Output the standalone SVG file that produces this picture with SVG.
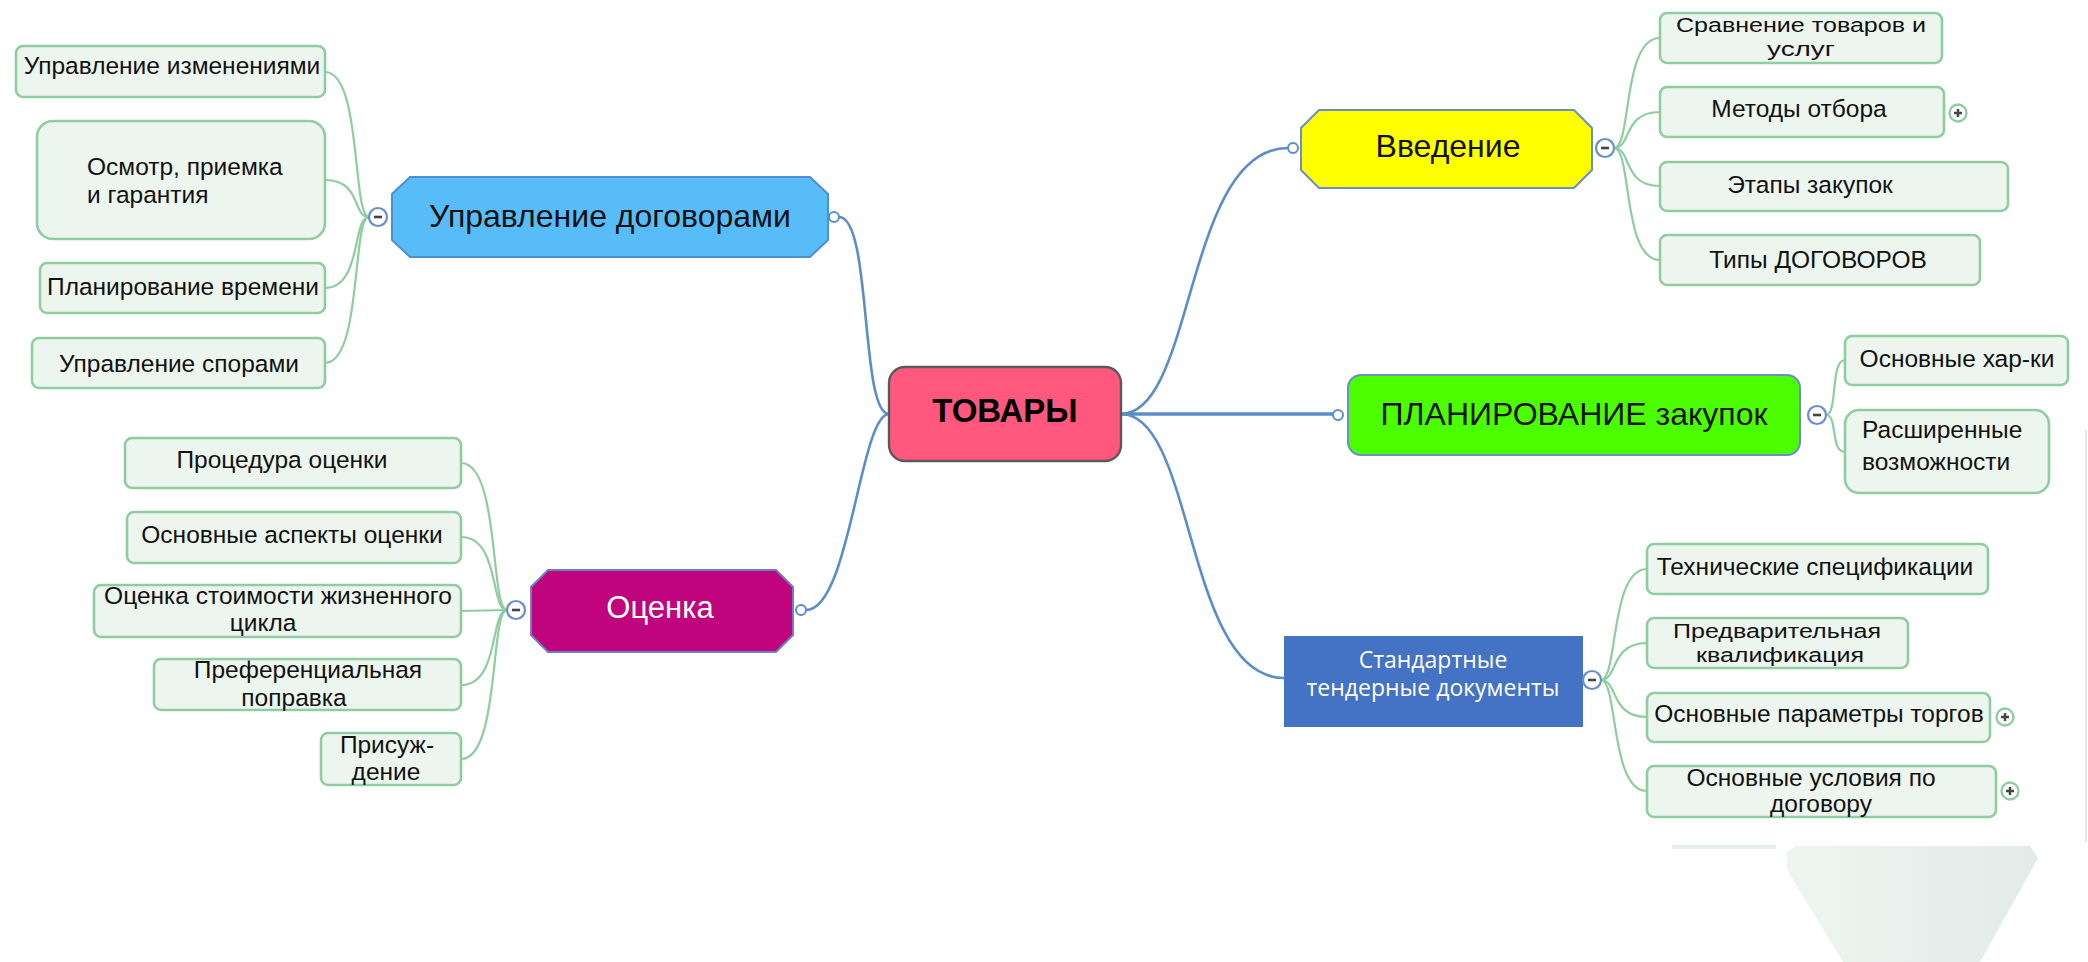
<svg xmlns="http://www.w3.org/2000/svg" width="2088" height="962" viewBox="0 0 2088 962">
<defs>
<linearGradient id="trap" x1="0" y1="0" x2="1" y2="0">
<stop offset="0" stop-color="#EEF5F1"/>
<stop offset="1" stop-color="#E1EBE8"/>
</linearGradient>
</defs>
<style>
.bl{fill:none;stroke:#5B8DC8;stroke-width:2.6}
.gr{fill:none;stroke:#8FCDA0;stroke-width:2.2}
.box{fill:#EDF5EF;stroke:#8FCDA0;stroke-width:2.6}
.t{font-family:"Liberation Sans",Arial,sans-serif;font-size:24.5px;fill:#111;text-anchor:middle}
.t2{font-family:"Liberation Sans",Arial,sans-serif;font-size:20.5px;fill:#111;text-anchor:middle}
.ts{font-family:"Liberation Sans",Arial,sans-serif;font-size:24.5px;fill:#111;text-anchor:start}
.mt{font-family:"Liberation Sans",Arial,sans-serif;font-size:32px;fill:#111;text-anchor:middle}
.end{fill:#fff;stroke:#5B8DC8;stroke-width:2}
.col{fill:#fff;stroke:#6A8FC8;stroke-width:2.2}
.exp{fill:#fff;stroke:#8FCDA0;stroke-width:2.4}
.sgn{stroke:#444;stroke-width:2.6;fill:none}
</style>
<rect width="2088" height="962" fill="#fff"/>
<g id="decor">
<polygon points="1795,846 2030,846 2038,858 1980,962 1843,962 1787,870 1787,852" fill="url(#trap)"/>
<rect x="1672" y="845" width="104" height="4" fill="#E6F0E8"/>
<line x1="2086" y1="430" x2="2086" y2="842" stroke="#E6E6E6" stroke-width="2"/>
</g>
<g id="connectors">
<path class="bl" d="M 839 217 C 872 217, 860 414, 889 414"/>
<path class="bl" d="M 889 414 C 860 414, 850 610, 806 610"/>
<path class="bl" d="M 1121 414 C 1195 414, 1185 148, 1288 148"/>
<path class="bl" d="M 1121 414 L 1333 414" style="stroke-width:3.4"/>
<path class="bl" d="M 1121 414 C 1195 414, 1185 678, 1284 678"/>
<path class="gr" d="M 1614 148 C 1632 148, 1622 38, 1660 38"/>
<path class="gr" d="M 1614 148 C 1632 148, 1622 112, 1660 112"/>
<path class="gr" d="M 1614 148 C 1632 148, 1622 186, 1660 186"/>
<path class="gr" d="M 1614 148 C 1632 148, 1622 260, 1660 260"/>
<path class="gr" d="M 1826 415 C 1838 415, 1830 360, 1845 360"/>
<path class="gr" d="M 1826 415 C 1838 415, 1830 452, 1845 452"/>
<path class="gr" d="M 1601 680 C 1618 680, 1610 569, 1647 569"/>
<path class="gr" d="M 1601 680 C 1618 680, 1610 643, 1647 643"/>
<path class="gr" d="M 1601 680 C 1618 680, 1610 717, 1647 717"/>
<path class="gr" d="M 1601 680 C 1618 680, 1610 791, 1647 791"/>
<path class="gr" d="M 369 217 C 352 217, 362 72, 325 72"/>
<path class="gr" d="M 369 217 C 352 217, 362 180, 325 180"/>
<path class="gr" d="M 369 217 C 352 217, 362 288, 325 288"/>
<path class="gr" d="M 369 217 C 352 217, 362 363, 325 363"/>
<path class="gr" d="M 507 610 C 490 610, 500 463, 461 463"/>
<path class="gr" d="M 507 610 C 490 610, 500 537, 461 537"/>
<path class="gr" d="M 507 610 L 461 611"/>
<path class="gr" d="M 507 610 C 490 610, 500 685, 461 685"/>
<path class="gr" d="M 507 610 C 490 610, 500 759, 461 759"/>
</g>
<g id="root">
<rect x="889" y="367" width="232" height="94" rx="16" fill="#FF577D" stroke="#5A5A5A" stroke-width="2.4"/>
<text x="1005" y="422" style="font-family:'Liberation Sans',Arial,sans-serif;font-size:33px;font-weight:bold;fill:#000;text-anchor:middle">ТОВАРЫ</text>
</g>
<g id="contracts">
<path d="M 410 177 L 810 177 L 828 194 L 828 240 L 810 257 L 410 257 L 392 240 L 392 194 Z" fill="#58BCF9" stroke="#4E8FD0" stroke-width="2"/>
<text class="mt" x="610" y="227">Управление договорами</text>
<circle class="end" cx="834" cy="217" r="5"/>
<circle class="col" cx="378" cy="217" r="9"/><line class="sgn" x1="374" y1="217" x2="382" y2="217"/>
</g>
<g id="intro">
<path d="M 1319 110 L 1574 110 L 1592 128 L 1592 170 L 1574 188 L 1319 188 L 1301 170 L 1301 128 Z" fill="#FFFF00" stroke="#6A8FC8" stroke-width="2"/>
<text class="mt" x="1448" y="157">Введение</text>
<circle class="end" cx="1293" cy="148" r="5"/>
<circle class="col" cx="1605" cy="148" r="9"/><line class="sgn" x1="1601" y1="148" x2="1609" y2="148"/>
</g>
<g id="planning">
<rect x="1348" y="375" width="452" height="80" rx="13" fill="#4CFF00" stroke="#6A8FC8" stroke-width="2"/>
<text class="mt" x="1574" y="425">ПЛАНИРОВАНИЕ закупок</text>
<circle class="end" cx="1338" cy="415" r="5"/>
<circle class="col" cx="1817" cy="415" r="9"/><line class="sgn" x1="1813" y1="415" x2="1821" y2="415"/>
</g>
<g id="tender">
<rect x="1284" y="636" width="299" height="91" fill="#4472C4"/>
<text x="1433" y="668" style="font-family:'Open Sans','Noto Sans',sans-serif;font-size:23px;fill:#fff;text-anchor:middle">Стандартные</text>
<text x="1433" y="696" style="font-family:'Open Sans','Noto Sans',sans-serif;font-size:23px;fill:#fff;text-anchor:middle">тендерные документы</text>
<circle class="col" cx="1592" cy="680" r="9"/><line class="sgn" x1="1588" y1="680" x2="1596" y2="680"/>
</g>
<g id="evaluation">
<path d="M 548 570 L 776 570 L 793 587 L 793 635 L 776 652 L 548 652 L 531 635 L 531 587 Z" fill="#C0047E" stroke="#6A7FC8" stroke-width="2"/>
<text x="660" y="618" style="font-family:'Liberation Sans',Arial,sans-serif;font-size:31px;fill:#fff;text-anchor:middle">Оценка</text>
<circle class="end" cx="801" cy="610" r="5"/>
<circle class="col" cx="516" cy="610" r="9"/><line class="sgn" x1="512" y1="610" x2="520" y2="610"/>
</g>
<g id="c-changes"><rect class="box" x="16" y="46" width="309" height="51" rx="7"/><text class="t" x="172" y="74">Управление изменениями</text></g>
<g id="c-inspection"><rect class="box" x="37" y="121" width="288" height="118" rx="16"/><text class="ts" x="87" y="175">Осмотр, приемка</text><text class="ts" x="87" y="203">и гарантия</text></g>
<g id="c-time"><rect class="box" x="40" y="263" width="285" height="50" rx="7"/><text class="t" x="183" y="295">Планирование времени</text></g>
<g id="c-disputes"><rect class="box" x="32" y="338" width="293" height="50" rx="7"/><text class="t" x="179" y="372">Управление спорами</text></g>
<g id="c-procedure"><rect class="box" x="125" y="438" width="336" height="50" rx="7"/><text class="t" x="282" y="468">Процедура оценки</text></g>
<g id="c-aspects"><rect class="box" x="127" y="512" width="334" height="51" rx="7"/><text class="t" x="292" y="543">Основные аспекты оценки</text></g>
<g id="c-lifecycle"><rect class="box" x="94" y="585" width="367" height="52" rx="7"/><text class="t" x="278" y="604">Оценка стоимости жизненного</text><text class="t" x="263" y="631">цикла</text></g>
<g id="c-preference"><rect class="box" x="154" y="659" width="307" height="51" rx="7"/><text class="t" x="308" y="678">Преференциальная</text><text class="t" x="294" y="706">поправка</text></g>
<g id="c-award"><rect class="box" x="321" y="733" width="140" height="52" rx="7"/><text class="t" x="387" y="753">Присуж-</text><text class="t" x="386" y="780">дение</text></g>
<g id="c-compare"><rect class="box" x="1660" y="13" width="282" height="50" rx="7"/><text class="t2" x="1801" y="32" textLength="250" lengthAdjust="spacingAndGlyphs">Сравнение товаров и</text><text class="t2" x="1801" y="56" textLength="68" lengthAdjust="spacingAndGlyphs">услуг</text></g>
<g id="c-methods"><rect class="box" x="1660" y="87" width="284" height="50" rx="7"/><text class="t" x="1799" y="117">Методы отбора</text><circle class="exp" cx="1958" cy="113" r="8.5"/><path class="sgn" d="M 1954 113 H 1962 M 1958 109 V 117" style="stroke-width:2.4"/></g>
<g id="c-stages"><rect class="box" x="1660" y="162" width="348" height="49" rx="7"/><text class="t" x="1810" y="193">Этапы закупок</text></g>
<g id="c-types"><rect class="box" x="1660" y="235" width="320" height="50" rx="7"/><text class="t" x="1818" y="268">Типы ДОГОВОРОВ</text></g>
<g id="c-basic"><rect class="box" x="1845" y="336" width="223" height="49" rx="7"/><text class="t" x="1957" y="367">Основные хар-ки</text></g>
<g id="c-extended"><rect class="box" x="1845" y="410" width="204" height="83" rx="14"/><text class="ts" x="1862" y="438">Расширенные</text><text class="ts" x="1862" y="470">возможности</text></g>
<g id="c-techspec"><rect class="box" x="1647" y="544" width="341" height="50" rx="7"/><text class="t" x="1815" y="575">Технические спецификации</text></g>
<g id="c-prequal"><rect class="box" x="1647" y="618" width="261" height="50" rx="7"/><text class="t2" x="1777" y="638" textLength="208" lengthAdjust="spacingAndGlyphs">Предварительная</text><text class="t2" x="1780" y="662" textLength="168" lengthAdjust="spacingAndGlyphs">квалификация</text></g>
<g id="c-params"><rect class="box" x="1647" y="693" width="343" height="49" rx="7"/><text class="t" x="1819" y="722">Основные параметры торгов</text><circle class="exp" cx="2005" cy="717" r="8.5"/><path class="sgn" d="M 2001 717 H 2009 M 2005 713 V 721" style="stroke-width:2.4"/></g>
<g id="c-terms"><rect class="box" x="1647" y="766" width="349" height="51" rx="7"/><text class="t" x="1811" y="786">Основные условия по</text><text class="t" x="1821" y="812">договору</text><circle class="exp" cx="2010" cy="791" r="8.5"/><path class="sgn" d="M 2006 791 H 2014 M 2010 787 V 795" style="stroke-width:2.4"/></g>
</svg>
